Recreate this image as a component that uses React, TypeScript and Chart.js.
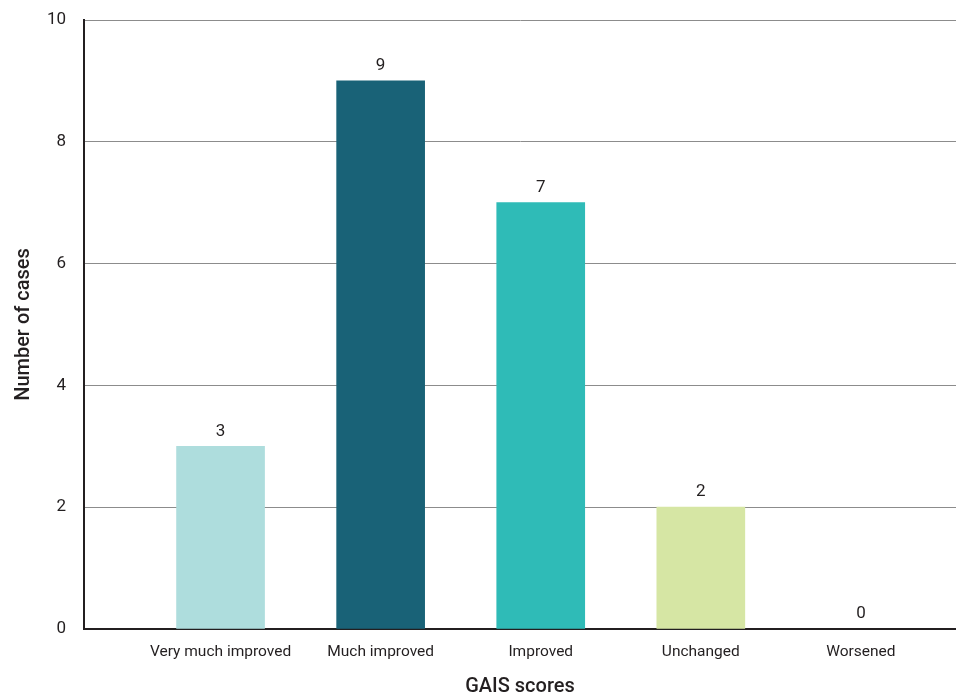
import React, { useEffect, useRef } from "react";
import { Chart, registerables } from "chart.js";

Chart.register(...registerables);

const categories = ["Very much improved", "Much improved", "Improved", "Unchanged", "Worsened"];
const caseCounts = [3, 9, 7, 2, 0];
const barColors = ["#AEDDDD", "#196277", "#2FBBB7", "#D6E6A4", "rgba(0,0,0,0)"];
const yTicks = [0, 2, 4, 6, 8, 10];

const FONT = "Roboto, 'Noto Sans', sans-serif";
const INK = "#231F20";

const valueLabels = {
  id: "valueLabels",
  afterDatasetsDraw(chart: any) {
    const ctx = chart.ctx;
    const meta = chart.getDatasetMeta(0);
    ctx.save();
    ctx.font = `17px ${FONT}`;
    ctx.fillStyle = INK;
    ctx.textAlign = "center";
    ctx.textBaseline = "middle";
    meta.data.forEach((bar: any, i: number) => {
      ctx.fillText(String(caseCounts[i]), bar.x, bar.y - 15);
    });
    ctx.restore();
  },
};

export default function App() {
  const ref = useRef<HTMLCanvasElement | null>(null);
  useEffect(() => {
    if (!ref.current) return;
    const chart = new Chart(ref.current, {
      type: "bar",
      data: {
        datasets: [
          {
            data: caseCounts.map((v, i) => ({ x: i, y: v })),
            backgroundColor: barColors,
            borderWidth: 0,
            barThickness: 88,
          },
        ],
      },
      plugins: [valueLabels],
      options: {
        responsive: false,
        animation: false,
        layout: { autoPadding: false, padding: { top: 20, right: 0, left: 0, bottom: 0 } },
        plugins: { legend: { display: false }, title: { display: false }, tooltip: { enabled: false } },
        scales: {
          x: {
            type: "linear",
            offset: false,
            bounds: "data",
            min: -0.853,
            max: 4.594,
            afterBuildTicks: (scale: any) => {
              scale.ticks = categories.map((_, i) => ({ value: i }));
            },
            afterFit: (scale: any) => {
              scale.height = 68;
              scale.paddingTop = 0;
              scale.paddingBottom = 0;
              scale.paddingLeft = 0;
              scale.paddingRight = 0;
            },
            grid: { display: false, drawTicks: false, offset: false },
            border: { display: true, color: INK, width: 2 },
            ticks: {
              padding: 14,
              color: INK,
              font: { family: FONT, size: 15.5 },
              maxRotation: 0,
              autoSkip: false,
              callback: (v: any) => categories[Math.round(Number(v))] ?? "",
            },
            title: {
              display: true,
              text: "GAIS scores",
              color: INK,
              font: { family: FONT, size: 20, weight: "500", lineHeight: 1.0 },
              padding: { top: 6, bottom: 0 },
            },
          },
          y: {
            min: 0,
            max: 10,
            afterBuildTicks: (scale: any) => {
              scale.ticks = yTicks.map((v) => ({ value: v }));
            },
            afterFit: (scale: any) => {
              scale.width = 84;
              scale.paddingTop = 0;
              scale.paddingBottom = 0;
              scale.paddingLeft = 0;
              scale.paddingRight = 0;
            },
            grid: { color: "#8C8C8C", lineWidth: 1, drawTicks: false },
            border: { display: true, color: INK, width: 2 },
            ticks: {
              padding: 18,
              color: INK,
              font: { family: FONT, size: 17 },
            },
            title: {
              display: true,
              text: "Number of cases",
              color: INK,
              font: { family: FONT, size: 20, weight: "500" },
              padding: { top: 12, bottom: 0 },
            },
          },
        },
      },
    } as any);
    return () => chart.destroy();
  }, []);
  return (
    <div style={{ position: "fixed", left: 0, top: 0, width: 956, height: 697, background: "#fff" }}>
      <canvas ref={ref} width={956} height={697} style={{ display: "block", width: 956, height: 697 }} />
    </div>
  );
}
